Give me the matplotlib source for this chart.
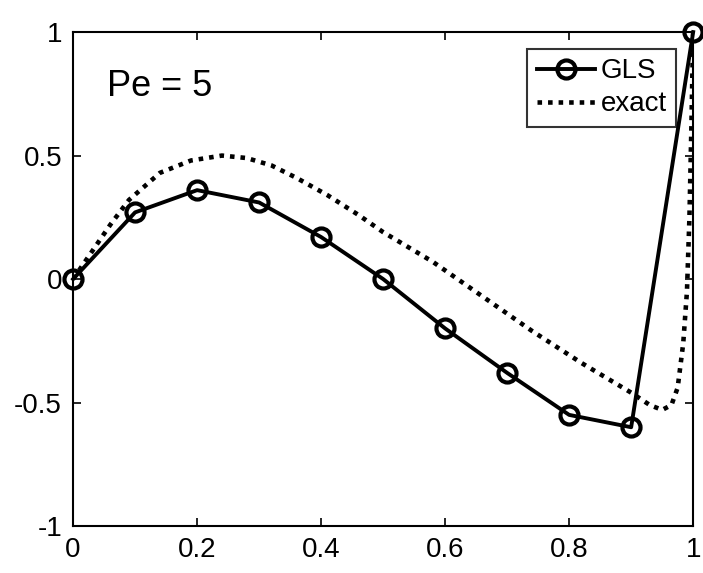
import matplotlib
matplotlib.use('Agg')
import matplotlib.pyplot as plt

# GLS nodal solution, h = 0.1
x_gls = [0.0, 0.1, 0.2, 0.3, 0.4, 0.5, 0.6, 0.7, 0.8, 0.9, 1.0]
u_gls = [0.0, 0.27, 0.36, 0.31, 0.17, 0.0, -0.20, -0.38, -0.55, -0.60, 1.0]

# exact solution
x_exact = [0.0, 0.03, 0.06, 0.09, 0.14, 0.19, 0.24, 0.28, 0.32, 0.36, 0.41,
           0.46, 0.50, 0.58, 0.66, 0.74, 0.82, 0.90, 0.93, 0.95, 0.965, 0.975,
           0.984, 0.99, 0.994, 0.997, 1.0]
u_exact = [0.0, 0.11, 0.22, 0.32, 0.43, 0.48, 0.50, 0.49, 0.46, 0.41, 0.34,
           0.26, 0.19, 0.07, -0.07, -0.21, -0.34, -0.46, -0.51, -0.53, -0.51,
           -0.44, -0.26, -0.05, 0.25, 0.6, 1.0]

x_ticks = [0, 0.2, 0.4, 0.6, 0.8, 1]
y_ticks = [-1, -0.5, 0, 0.5, 1]

plt.rcParams['font.family'] = ['Liberation Sans', 'DejaVu Sans']

fig = plt.figure(figsize=(7.03, 5.73), dpi=100)
ax = fig.add_axes([0.104, 0.082, 0.882, 0.862])

ax.plot(x_gls, u_gls, 'k-', marker='o', markersize=13, markerfacecolor='none',
        markeredgewidth=3, linewidth=2.8, label='GLS', clip_on=False, zorder=3)
ax.plot(x_exact, u_exact, 'k', linewidth=3.3, dashes=(1, 1.3),
        dash_capstyle='butt', label='exact', zorder=2)

ax.set_xlim(0, 1)
ax.set_ylim(-1, 1)
ax.set_xticks(x_ticks)
ax.set_xticklabels(['0', '0.2', '0.4', '0.6', '0.8', '1'])
ax.set_yticks(y_ticks)
ax.set_yticklabels(['-1', '-0.5', '0', '0.5', '1'])
ax.tick_params(direction='in', length=6, width=1.2, top=True, right=True,
               labelsize=20, pad=8)
for s in ax.spines.values():
    s.set_linewidth(1.5)

ax.text(0.055, 0.89, 'Pe = 5', transform=ax.transAxes, fontsize=26,
        va='center')

leg = ax.legend(loc='upper right', fontsize=20, frameon=True, fancybox=False,
                edgecolor='k', handlelength=2.1, handletextpad=0.2,
                borderpad=0.35, labelspacing=0.25, borderaxespad=0.6)
leg.get_frame().set_linewidth(1.5)

plt.savefig('out.png', dpi=100)
plt.close()
